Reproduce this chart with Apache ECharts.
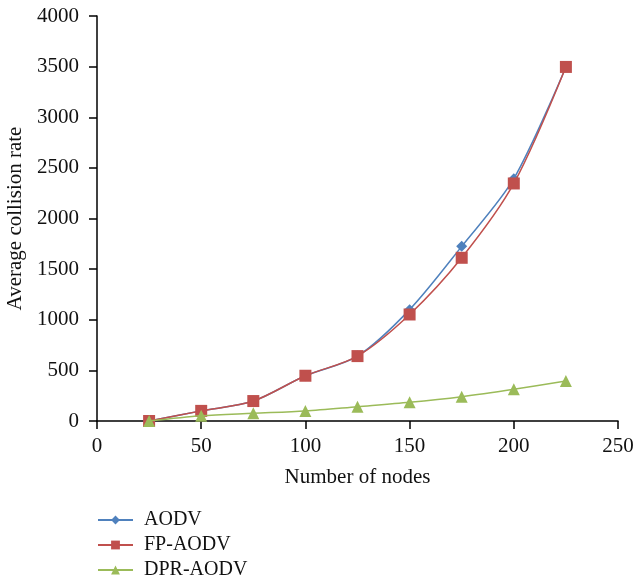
<!DOCTYPE html>
<html>
<head>
<meta charset="utf-8">
<script src="https://cdn.jsdelivr.net/npm/echarts@6/dist/echarts.min.js"></script>
<style>html,body{margin:0;padding:0;background:#fff}#chart{width:634px;height:584px}</style>
</head>
<body>
<div id="chart"></div>
<script>
const nodes = [25, 50, 75, 100, 125, 150, 175, 200, 225];
const aodv = [0, 100, 197, 447, 641, 1100, 1725, 2393, 3497];
const fpAodv = [0, 100, 197, 447, 641, 1052, 1612, 2346, 3497];
const dprAodv = [0, 52, 76, 99, 141, 184, 240, 313, 395];
const seriesNames = ['AODV', 'FP-AODV', 'DPR-AODV'];
const colors = ['#4F81BD', '#C0504D', '#9BBB59'];
const symbols = ['diamond', 'rect', 'triangle'];
const symbolSizes = [11, 12, 12];
const FONT = '"Liberation Serif", "DejaVu Serif", serif';

const chart = echarts.init(document.getElementById('chart'));
const pairs = (xs, ys) => xs.map((x, i) => [x, ys[i]]);
const allData = [aodv, fpAodv, dprAodv];

chart.setOption({
  animation: false,
  backgroundColor: '#ffffff',
  grid: { left: 97, right: 16, top: 16, bottom: 163, containLabel: false, outerBoundsMode: 'none' },
  legend: {
    orient: 'vertical',
    left: 92, top: 505, height: 90, width: 200,
    itemWidth: 35, itemHeight: 11, itemGap: 5,
    textStyle: { fontFamily: FONT, fontSize: 20, color: '#111', padding: [0, 0, 0, 6] },
    data: seriesNames
  },
  xAxis: {
    type: 'value', min: 0, max: 250, interval: 50,
    name: 'Number of nodes', nameLocation: 'middle', nameGap: 46,
    nameTextStyle: { fontFamily: FONT, fontSize: 21, color: '#111' },
    axisLine: { show: true, lineStyle: { color: '#000', width: 1.5 } },
    axisTick: { show: true, inside: false, length: 8, lineStyle: { color: '#000', width: 1.5 } },
    axisLabel: { fontFamily: FONT, fontSize: 21, color: '#111', margin: 15, formatter: v => String(v) },
    splitLine: { show: false }
  },
  yAxis: {
    type: 'value', min: 0, max: 4000, interval: 500,
    name: 'Average collision rate', nameLocation: 'middle', nameGap: 65, nameRotate: 90,
    nameTextStyle: { fontFamily: FONT, fontSize: 21, color: '#111' },
    axisLine: { show: true, lineStyle: { color: '#000', width: 1.5 } },
    axisTick: { show: true, inside: false, length: 8, lineStyle: { color: '#000', width: 1.5 } },
    axisLabel: { fontFamily: FONT, fontSize: 21, color: '#111', margin: 18, formatter: v => String(v) },
    splitLine: { show: false }
  },
  series: seriesNames.map((name, i) => ({
    name: name,
    type: 'line',
    smooth: 0.3,
    data: pairs(nodes, allData[i]),
    symbol: symbols[i],
    symbolSize: symbolSizes[i],
    showAllSymbol: true,
    itemStyle: { color: colors[i] },
    lineStyle: { color: colors[i], width: 1.5 },
    z: i === 1 ? 3 : (i === 0 ? 2 : 4)
  }))
});
</script>
</body>
</html>
